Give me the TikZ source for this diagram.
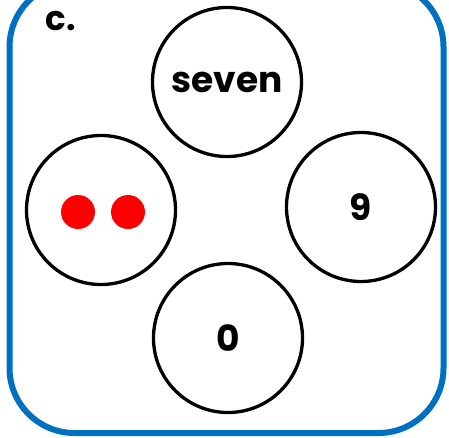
\documentclass[tikz,border=0pt]{standalone}
\usepackage{fontspec}
\setmainfont{Poppins}
\definecolor{frameblue}{HTML}{0070C0}
\definecolor{dotred}{HTML}{FF0000}
\begin{document}
\begin{tikzpicture}[x=1pt,y=-1pt,
  ring/.style={circle,draw=black,line width=3.3pt,minimum size=149pt,inner sep=0pt,font=\bfseries\fontsize{36}{40}\selectfont},
  dot/.style={circle,fill=dotred,minimum size=34pt,inner sep=0pt}]
\useasboundingbox (0,0) rectangle (449,437);
\draw[frameblue,line width=6pt,rounded corners=65pt] (9.5,-18) rectangle (443.5,433);
\node[font=\bfseries\fontsize{34}{38}\selectfont,anchor=center] (lab) at (61,21) {c.};
\node[ring] (top) at (227,82) {seven};
\node[ring] (left) at (101,210) {};
\node[ring] (right) at (361,207) {9};
\node[ring] (bottom) at (228,338) {0};
\node[dot] (d1) at (78,212) {};
\node[dot] (d2) at (128,212) {};
\end{tikzpicture}
\end{document}
